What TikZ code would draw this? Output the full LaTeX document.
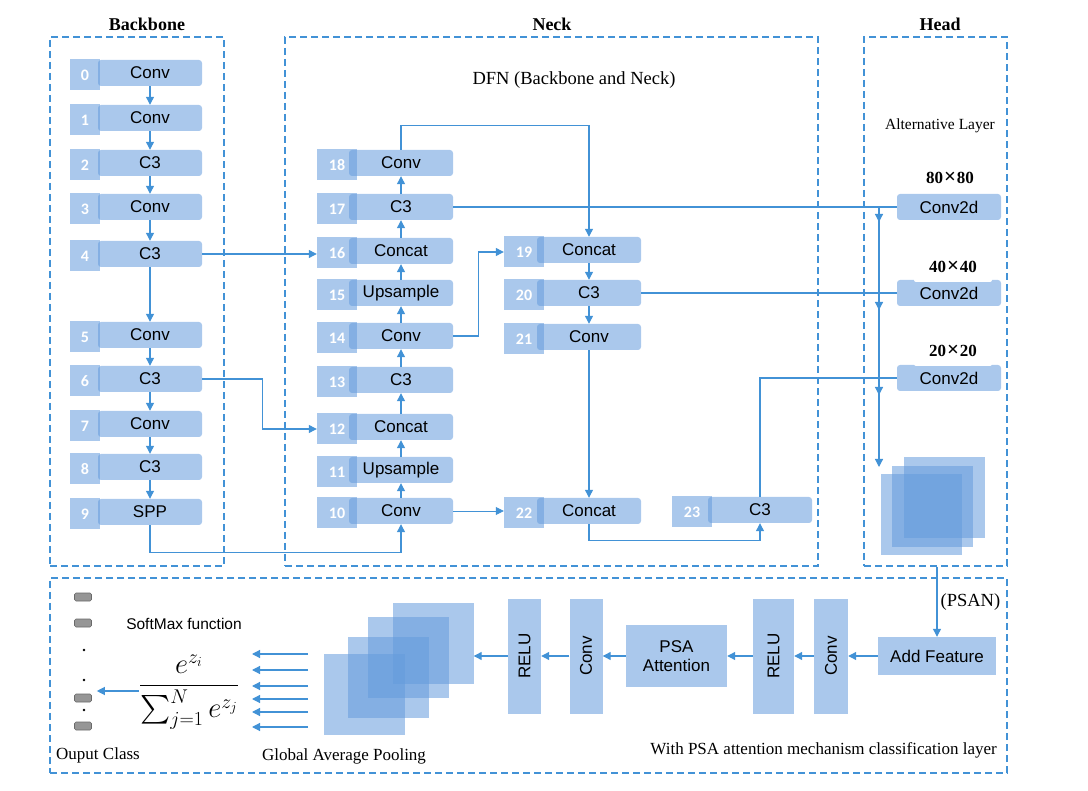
\documentclass[tikz,border=0pt]{standalone}
\usepackage{amsmath}
\usepackage{fontspec}
\setmainfont{Liberation Serif}
\setsansfont{Liberation Sans}
\newfontfamily\numfont{Carlito}
\usetikzlibrary{arrows.meta,decorations.markings}
\definecolor{myBlue}{RGB}{100,155,220}
\definecolor{myLine}{RGB}{66,146,214}
\definecolor{myGray}{RGB}{150,150,150}
\definecolor{myGrayEdge}{RGB}{105,105,105}
\newcommand{\bigtimes}{\hspace{1pt}{\fontsize{21}{17}\selectfont ×}\hspace{1pt}}

\begin{document}
\begin{tikzpicture}[%
    x=1pt, y=-1pt,
    every node/.style={inner sep=0pt},
    layer/.style={fill=myBlue, fill opacity=0.55, text opacity=1, rounded corners=3pt,
        minimum width=104pt, minimum height=26pt,
        font=\sffamily\fontsize{17}{17}\selectfont},
    idx/.style={fill=myBlue, fill opacity=0.55, text opacity=1, text=white,
        minimum width=40pt, minimum height=31pt,
        font=\numfont\bfseries\fontsize{16}{16}\selectfont},
    bar/.style={fill=myBlue, fill opacity=0.55, text opacity=1,
        font=\sffamily\fontsize{17}{19}\selectfont},
    fmap/.style={fill=myBlue, fill opacity=0.55, minimum size=81pt},
    group/.style={draw=myLine, line width=1.3pt, dash pattern=on 7pt off 4pt},
    title/.style={font=\bfseries\fontsize{18}{18}\selectfont},
    caption/.style={text=black, font=\fontsize{17}{17}\selectfont},
    size/.style={font=\bfseries\fontsize{17}{17}\selectfont},
    line/.style={color=myLine, line width=1.2pt},
    arr/.style={line, -{Triangle[length=8pt,width=8pt]}},
    outcls/.style={fill=myGray, draw=myGrayEdge, line width=0.6pt, rounded corners=1.5pt,
        minimum width=17pt, minimum height=8pt},
]
\useasboundingbox (0,0) rectangle (1088,791);

% place dashed groups
\node[group, minimum width=174pt, minimum height=529pt] (bbgrp) at (137,301.5) {};
\node[group, minimum width=533pt, minimum height=529pt] (nkgrp) at (551.5,301.5) {};
\node[group, minimum width=143pt, minimum height=529pt] (head) at (935.5,301.5) {};
\node[group, minimum width=957pt, minimum height=195pt] (clsgrp) at (528.5,675.5) {};

% place titles
\node[title] (tbb) at (147,24) {Backbone};
\node[title] (tnk) at (552,24) {Neck};
\node[title] (thd) at (940,24) {Head};
\node[font=\fontsize{18.5}{19}\selectfont] (dfn) at (574,80) {DFN (Backbone and Neck)};
\node[font=\fontsize{15.5}{16}\selectfont] (alt) at (940,126) {Alternative Layer};

% place backbone layers
\foreach \i/\y/\txt in {0/73/Conv, 1/118/Conv, 2/163/C3, 3/207/Conv, 4/254/C3,
    5/335/Conv, 6/379/C3, 7/424/Conv, 8/467/C3, 9/512/SPP} {
    \node[idx, minimum width=30pt] (i\i) at (85,\y+2) {\i};
    \node[layer] (b\i) at (150,\y) {\txt};
}

% place neck layers
\foreach \i/\y/\txt in {10/511/Conv, 11/470/Upsample, 12/427/Concat, 13/380/C3,
    14/336/Conv, 15/293/Upsample, 16/251/Concat, 17/207/C3, 18/163/Conv} {
    \node[idx] (i\i) at (337,\y+2) {\i};
    \node[layer] (n\i) at (401,\y) {\txt};
}
\foreach \i/\y/\txt in {19/250/Concat, 20/293/C3, 21/337/Conv, 22/511/Concat} {
    \node[idx] (i\i) at (524,\y+2) {\i};
    \node[layer] (n\i) at (589,\y) {\txt};
}
\node[idx] (i23) at (692,512) {23};
\node[layer] (n23) at (760,510) {C3};

% place head layers
\foreach \s/\y in {80/207, 40/293, 20/378} {
    \node[layer] (h\s) at (949,\y) {Conv2d};
}
\node[size] (l80) at (950,178) {80\bigtimes80};
\node[size, fill=white, rounded corners=2pt, minimum width=78pt, minimum height=30pt] (l40) at (953,267) {40\bigtimes40};
\node[size, fill=white, rounded corners=2pt, minimum width=78pt, minimum height=30pt] (l20) at (953,351) {20\bigtimes20};
\foreach \n/\x/\y in {1/944.5/497.5, 2/932.5/506.5, 3/921.5/514.5} {
    \node[fmap] (hs\n) at (\x,\y) {};
}

% backbone and neck arrows
\foreach \a/\b in {0/1,1/2,2/3,3/4,4/5,5/6,6/7,7/8,8/9} {
    \draw[arr] (b\a) -- (b\b);
}
\foreach \a/\b in {10/11,11/12,12/13,13/14,14/15,15/16,16/17,17/18,19/20,20/21,21/22} {
    \draw[arr] (n\a) -- (n\b);
}
\draw[arr] (b4.east) -- (b4.east -| i16.west);
\draw[arr] (b6.east) -- ++(60,0) |- (i12.west);
\draw[arr] (b9.south) -- ++(0,27) -| (n10.south);
\draw[arr, line width=0.8pt] (n10.east) -- (n10.east -| i22.west);
\draw[arr] (n14.east) -- ++(25,0) |- (i19.west);
\draw[arr] (n18.north) -- ++(0,-24) -| (n19.north);
\draw[arr] (n22.south) -- ++(0,16) -| (n23.south);

% head lines
\draw[line] (n17.east) -- (n17.east -| h80.west);
\draw[line] (n20.east) -- (n20.east -| h40.west);
\draw[line] (n23.north) |- (h20.west);
\coordinate (jtop) at (879,207);
\coordinate (jbot) at (879,467);
\draw[arr, decoration={markings,
    mark=at position 15pt with {\arrow{Triangle[length=8pt,width=8pt]}},
    mark=at position 103pt with {\arrow{Triangle[length=8pt,width=8pt]}},
    mark=at position 188pt with {\arrow{Triangle[length=8pt,width=8pt]}}},
    postaction={decorate}] (jtop) -- (jbot);

% place classification layer
\node[bar, minimum width=118pt, minimum height=38pt] (addf) at (937,656) {Add Feature};
\node[bar, rotate=90, minimum width=115pt, minimum height=34pt] (c1) at (831,656) {Conv};
\node[bar, rotate=90, minimum width=115pt, minimum height=41pt] (r1) at (773.5,656) {RELU};
\node[bar, align=center, minimum width=101pt, minimum height=62pt] (psa) at (676.5,656) {PSA\\Attention};
\node[bar, rotate=90, minimum width=115pt, minimum height=33pt] (c2) at (586,656) {Conv};
\node[bar, rotate=90, minimum width=115pt, minimum height=33pt] (r2) at (524.5,656) {RELU};
\foreach \n/\x/\y in {1/433/643, 2/408.5/657.5, 3/388/677.5, 4/364/694.5} {
    \node[fmap] (gs\n) at (\x,\y) {};
}

\draw[arr] (head.south -| addf) -- (addf) node[midway, right=3pt, font=\fontsize{18.5}{19}\selectfont, text=black] {(PSAN)};
\draw[arr] (addf) -- (c1);
\draw[arr] (c1) -- (r1);
\draw[arr] (r1) -- (psa);
\draw[arr] (psa) -- (c2);
\draw[arr] (c2) -- (r2);
\draw[arr] (r2) -- (r2 -| gs1.east);

% global average pooling arrows
\foreach \y in {654,670,686,699,712,727} {
    \coordinate (gp\y) at (308,\y);
    \draw[arr] (gp\y) -- ++(-56,0);
}

% place softmax and output class
\node[font=\sffamily\fontsize{15.5}{16}\selectfont] (smf) at (184,624) {SoftMax function};
\node[font=\fontsize{24}{28}\selectfont] (softmax) at (189,692) {\scalebox{1.15}{$\displaystyle\frac{e^{z_i}}{\sum_{j=1}^{N} e^{z_j}}$}};
\foreach \i/\y in {1/597, 2/623, 3/698, 4/726} {
    \node[outcls] (oc\i) at (83,\y) {};
}
\foreach \y in {650, 680, 710} {
    \fill (84,\y) circle (1.3pt);
}
\draw[arr, shorten >=5pt] ([yshift=1pt]softmax.west) -- ([yshift=1pt]softmax.west -| oc3.east);

% place captions
\node[caption] (outlbl) at (98,755) {Ouput Class};
\node[caption] (gaplbl) at (344,756) {Global Average Pooling};
\node[caption, anchor=east] (psalbl) at (997,750) {With PSA attention mechanism classification layer};

\end{tikzpicture}
\end{document}
